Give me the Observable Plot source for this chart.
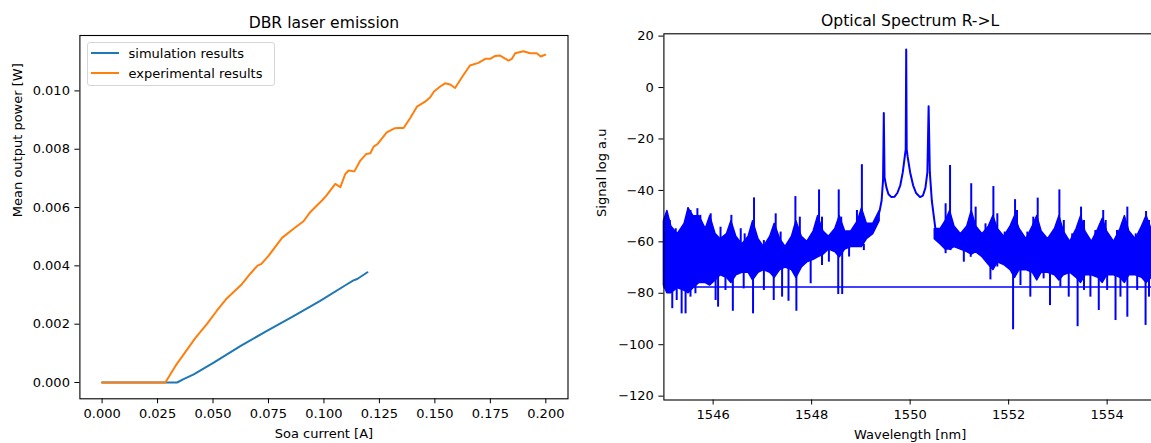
<!DOCTYPE html>
<html><head><meta charset="utf-8">
<script src="https://cdn.jsdelivr.net/npm/d3@7"></script>
<script src="https://cdn.jsdelivr.net/npm/@observablehq/plot@0.6"></script>
<style>
html,body{margin:0;padding:0;background:#fff;overflow:hidden;width:1151px;height:443px;}
#wrap{position:relative;width:1151px;height:443px;font-family:"DejaVu Sans",sans-serif;overflow:hidden;}
.panel{position:absolute;top:0;}
.legend{position:absolute;left:86.5px;top:42px;width:188px;height:44px;border:1px solid #d6d6d6;border-radius:3px;background:rgba(255,255,255,0.85);box-sizing:border-box;}
.legend .row{position:absolute;left:3px;height:16px;display:flex;align-items:center;font-size:13px;color:#000;white-space:nowrap;}
.legend .sw{display:inline-block;width:28px;height:2px;margin-right:10px;}
</style></head><body><div id="wrap"></div>
<script>
// ---------- Left panel data ----------
const leftTitle = "DBR laser emission";
const leftXLabel = "Soa current [A]";
const leftYLabel = "Mean output power [W]";
const legendLabels = ["simulation results", "experimental results"];
const leftXTicks = [0, 0.025, 0.05, 0.075, 0.1, 0.125, 0.15, 0.175, 0.2];
const leftYTicks = [0, 0.002, 0.004, 0.006, 0.008, 0.010];

const simCurrent = [0, 0.01, 0.02, 0.03, 0.0338, 0.0365, 0.0413, 0.0503, 0.0623, 0.0743, 0.0863, 0.0983, 0.1104, 0.1133, 0.1150, 0.1196];
const simPower   = [0, 0, 0, 0, 0, 0.00011, 0.00028, 0.00068, 0.00125, 0.00177, 0.00228, 0.00280, 0.00337, 0.00350, 0.00355, 0.00378];

const expCurrent = [0, 0.005, 0.01, 0.015, 0.02, 0.025, 0.0285, 0.033, 0.0375, 0.042, 0.0473, 0.0518, 0.0563, 0.0631, 0.0668, 0.0701, 0.0718, 0.0751, 0.0811, 0.0863, 0.0908, 0.0938, 0.0991, 0.1010, 0.1051, 0.1074, 0.1096, 0.1111, 0.1137, 0.1164, 0.1191, 0.1209, 0.1224, 0.1242, 0.1283, 0.1320, 0.1336, 0.1359, 0.1389, 0.1419, 0.1456, 0.1479, 0.1496, 0.1524, 0.1546, 0.1569, 0.1591, 0.1622, 0.1658, 0.1696, 0.1727, 0.1749, 0.1772, 0.1794, 0.1832, 0.1847, 0.1862, 0.1899, 0.1929, 0.1959, 0.1977, 0.1997];
const expPower   = [0, 0, 0, 0, 0, 0, 0, 0.00056, 0.00104, 0.00152, 0.00201, 0.00247, 0.00289, 0.00338, 0.00373, 0.00401, 0.00407, 0.00435, 0.00496, 0.00527, 0.00553, 0.00584, 0.00624, 0.00640, 0.00681, 0.00670, 0.00715, 0.00727, 0.00724, 0.00761, 0.00784, 0.00786, 0.00809, 0.00818, 0.00858, 0.00872, 0.00873, 0.00873, 0.00907, 0.00946, 0.00963, 0.00978, 0.00998, 0.01015, 0.01026, 0.01022, 0.01010, 0.01047, 0.01087, 0.01096, 0.01110, 0.01110, 0.01120, 0.01121, 0.01104, 0.01110, 0.01129, 0.01136, 0.01129, 0.01129, 0.01118, 0.01124];

// ---------- Right panel data ----------
const rightTitle = "Optical Spectrum R->L";
const rightXLabel = "Wavelength [nm]";
const rightYLabel = "Signal log a.u";
const rightXTicks = [1546, 1548, 1550, 1552, 1554];
const rightYTicks = [-120, -100, -80, -60, -40, -20, 0, 20];

// dense noise floor (upper / lower edge of the solid-looking band), rising in clusters at each cavity mode
const bandLeftNm = [1545.00, 1545.07, 1545.15, 1545.28, 1545.42, 1545.50, 1545.60, 1545.72, 1545.85, 1545.94, 1546.05, 1546.15, 1546.28, 1546.37, 1546.47, 1546.59, 1546.72, 1546.81, 1546.92, 1547.03, 1547.16, 1547.25, 1547.36, 1547.47, 1547.60, 1547.69, 1547.80, 1547.91, 1548.04, 1548.13, 1548.24, 1548.35, 1548.48, 1548.57, 1548.68, 1548.80, 1548.94, 1549.02, 1549.12, 1549.25, 1549.38];
const bandLeftHi = [-52, -48, -54, -57, -53, -47, -50, -50, -55, -50, -57, -59, -57, -52, -58, -61, -58, -52, -59, -62, -58, -53, -59, -62, -58, -52, -58, -60, -56, -50, -56, -58, -55, -50, -56, -56, -52, -47, -53, -53, -48];
const bandLeftLo = [-77, -80, -80, -78, -79, -80, -78, -76, -76, -77, -75, -73, -74, -76, -73, -72, -72, -75, -72, -71, -72, -74, -71, -70, -71, -74, -70, -68, -67, -66, -65, -63, -64, -66, -63, -62, -62, -62, -59, -57, -52];
const bandRightNm = [1550.50, 1550.62, 1550.72, 1550.81, 1550.90, 1551.03, 1551.16, 1551.25, 1551.34, 1551.47, 1551.60, 1551.69, 1551.78, 1551.91, 1552.04, 1552.13, 1552.22, 1552.36, 1552.49, 1552.58, 1552.67, 1552.80, 1552.94, 1553.03, 1553.12, 1553.25, 1553.38, 1553.47, 1553.56, 1553.69, 1553.82, 1553.91, 1554.00, 1554.14, 1554.27, 1554.36, 1554.45, 1554.58, 1554.71, 1554.80, 1554.90, 1555.00];
const bandRightHi = [-55, -55, -52, -48, -54, -57, -54, -48, -54, -57, -54, -50, -55, -58, -54, -50, -55, -59, -54, -50, -56, -59, -55, -50, -56, -60, -55, -50, -56, -60, -55, -51, -56, -60, -55, -50, -56, -59, -54, -50, -55, -57];
const bandRightLo = [-59, -61, -63, -63, -62, -63, -64, -65, -64, -66, -69, -71, -68, -69, -71, -74, -71, -71, -72, -75, -72, -72, -73, -75, -73, -72, -74, -76, -73, -73, -74, -76, -73, -73, -74, -76, -73, -73, -74, -76, -74, -73];

// upward spikes (side modes) and downward dips out of the noise floor
const spikeBase = -61;
const upNm = [1545.05, 1545.12, 1545.24, 1545.49, 1545.54, 1545.68, 1545.74, 1545.95, 1546.15, 1546.37, 1546.56, 1546.64, 1546.83, 1547.03, 1547.27, 1547.37, 1547.67, 1547.76, 1548.15, 1548.21, 1548.55, 1548.60, 1548.92, 1549.02, 1550.72, 1550.81, 1550.95, 1551.24, 1551.33, 1551.53, 1551.69, 1551.77, 1551.92, 1552.13, 1552.17, 1552.38, 1552.50, 1552.59, 1552.85, 1553.03, 1553.12, 1553.29, 1553.47, 1553.53, 1553.76, 1553.92, 1553.97, 1554.20, 1554.41, 1554.58, 1554.79, 1554.85];
const upDb = [-49.7, -51.7, -54.9, -46.8, -47.8, -47.1, -49.7, -49.1, -54.3, -49.7, -54.9, -56.9, -42.9, -59.5, -49.1, -56.2, -42.4, -50.4, -39.8, -50.4, -39.8, -50.4, -47.8, -30.0, -45.2, -30.3, -55.6, -37.4, -46.5, -53.0, -38.5, -49.1, -56.2, -43.6, -47.8, -56.2, -50.4, -43.0, -58.2, -39.8, -51.7, -56.9, -46.5, -51.7, -55.6, -47.8, -51.7, -55.6, -46.5, -56.9, -48.2, -51.7];
const downNm = [1545.07, 1545.17, 1545.26, 1545.36, 1545.44, 1545.54, 1545.64, 1546.05, 1546.10, 1546.25, 1546.40, 1546.62, 1546.81, 1547.03, 1547.23, 1547.40, 1547.53, 1547.69, 1547.98, 1548.21, 1548.35, 1548.54, 1548.62, 1548.76, 1549.06, 1550.72, 1550.82, 1551.09, 1551.23, 1551.63, 1551.77, 1552.09, 1552.24, 1552.44, 1552.71, 1552.84, 1553.05, 1553.22, 1553.40, 1553.53, 1553.66, 1553.83, 1554.00, 1554.17, 1554.27, 1554.41, 1554.61, 1554.78, 1554.85, 1554.92];
const downDb = [-73.7, -86.0, -82.8, -88.0, -88.0, -81.5, -80.2, -82.8, -85.4, -78.9, -87.0, -78.3, -88.0, -78.9, -82.8, -81.5, -83.1, -87.0, -76.3, -69.2, -67.9, -80.5, -80.5, -65.9, -63.4, -64.6, -63.4, -67.9, -66.0, -74.8, -69.8, -94.2, -77.0, -81.5, -74.4, -84.8, -77.6, -81.5, -93.0, -78.9, -81.5, -86.7, -78.9, -90.6, -81.5, -89.3, -78.9, -92.5, -81.5, -98.0];

// main lasing line with its two satellites and the Lorentzian pedestal
const centerNm = [1549.20, 1549.30, 1549.38, 1549.42, 1549.45, 1549.465, 1549.48, 1549.52, 1549.56, 1549.62, 1549.68, 1549.74, 1549.80, 1549.85, 1549.89, 1549.91, 1549.92, 1549.93, 1549.95, 1550.00, 1550.06, 1550.12, 1550.20, 1550.26, 1550.31, 1550.35, 1550.375, 1550.40, 1550.44, 1550.48, 1550.52, 1550.56];
const centerDb = [-55, -53, -48, -44, -36, -9.9, -35, -39, -41.5, -42.6, -42.5, -41, -38, -33, -27, -24, 14.8, -24, -27, -33, -38, -41, -42.6, -42, -39, -33, -7.3, -33, -44, -50, -56, -57];

const floorLevel = [-77.6];

// ---------- build ----------
const font = "DejaVu Sans";
const wrap = document.getElementById("wrap");
const fmt3 = d3.format(".3f");
const fmtInt = d3.format("d");

const simData = simCurrent.map((x, i) => ({x, y: simPower[i]}));
const expData = expCurrent.map((x, i) => ({x, y: expPower[i]}));

const left = Plot.plot({
  width: 580, height: 443,
  marginLeft: 79.4, marginRight: 12.5, marginTop: 35, marginBottom: 44.7,
  style: {fontFamily: font, fontSize: "13px", color: "black", background: "transparent", overflow: "visible"},
  x: {domain: [-0.01, 0.21]},
  y: {domain: [-0.000559, 0.0119]},
  marks: [
    Plot.axisX({ticks: leftXTicks, tickFormat: fmt3, tickSize: 5, tickPadding: 5, label: null, fontSize: 13}),
    Plot.axisY({ticks: leftYTicks, tickFormat: fmt3, tickSize: 5, tickPadding: 5, label: null, fontSize: 13}),
    Plot.line(simData, {x: "x", y: "y", stroke: "#1f77b4", strokeWidth: 2}),
    Plot.line(expData, {x: "x", y: "y", stroke: "#ff7f0e", strokeWidth: 2}),
    Plot.frame({stroke: "black", strokeWidth: 1.1}),
    Plot.text([leftTitle], {frameAnchor: "top", dy: -8, lineAnchor: "bottom", fontSize: 15.6}),
    Plot.text([leftXLabel], {frameAnchor: "bottom", dy: 35, lineAnchor: "middle", fontSize: 13}),
    Plot.text([leftYLabel], {frameAnchor: "left", dx: -62.4, rotate: -90, lineAnchor: "middle", fontSize: 13})
  ]
});
left.classList.add("panel");
left.style.left = "0px";
wrap.appendChild(left);

const bandLeft = bandLeftNm.map((nm, i) => ({nm, hi: bandLeftHi[i], lo: bandLeftLo[i]}));
const bandRight = bandRightNm.map((nm, i) => ({nm, hi: bandRightHi[i], lo: bandRightLo[i]}));
const ups = upNm.map((nm, i) => ({nm, db: upDb[i]}));
const downs = downNm.map((nm, i) => ({nm, db: downDb[i]}));
const center = centerNm.map((nm, i) => ({nm, db: centerDb[i]}));

const right = Plot.plot({
  width: 580, height: 443,
  marginLeft: 83.4, marginRight: 4.1, marginTop: 33.3, marginBottom: 43.5,
  style: {fontFamily: font, fontSize: "13px", color: "black", background: "transparent", overflow: "visible"},
  x: {domain: [1545, 1555]},
  y: {domain: [-121.5, 20.9]},
  marks: [
    Plot.axisX({ticks: rightXTicks, tickFormat: fmtInt, tickSize: 5, tickPadding: 5, label: null, fontSize: 13}),
    Plot.axisY({ticks: rightYTicks, tickFormat: fmtInt, tickSize: 5, tickPadding: 5, label: null, fontSize: 13}),
    Plot.areaY(bandLeft, {x: "nm", y1: "lo", y2: "hi", fill: "blue", stroke: "blue", strokeWidth: 1.5}),
    Plot.areaY(bandRight, {x: "nm", y1: "lo", y2: "hi", fill: "blue", stroke: "blue", strokeWidth: 1.5}),
    Plot.ruleX(ups, {x: "nm", y1: spikeBase, y2: "db", stroke: "blue", strokeWidth: 2}),
    Plot.ruleX(downs, {x: "nm", y1: spikeBase, y2: "db", stroke: "blue", strokeWidth: 2}),
    Plot.line(center, {x: "nm", y: "db", stroke: "blue", strokeWidth: 2}),
    Plot.ruleY(floorLevel, {stroke: "blue", strokeWidth: 1.5}),
    Plot.frame({stroke: "black", strokeWidth: 1.1}),
    Plot.text([rightTitle], {frameAnchor: "top", dy: -8, lineAnchor: "bottom", fontSize: 15.6}),
    Plot.text([rightXLabel], {frameAnchor: "bottom", dy: 35, lineAnchor: "middle", fontSize: 13}),
    Plot.text([rightYLabel], {frameAnchor: "left", dx: -62.4, rotate: -90, lineAnchor: "middle", fontSize: 13})
  ]
});
right.classList.add("panel");
right.style.left = "580px";
wrap.appendChild(right);

// legend (upper-left of left panel)
const legend = document.createElement("div");
legend.className = "legend";
const legendColors = ["#1f77b4", "#ff7f0e"];
legendLabels.forEach((lab, i) => {
  const row = document.createElement("div");
  row.className = "row";
  row.style.top = (2 + i * 20.4) + "px";
  const sw = document.createElement("span");
  sw.className = "sw";
  sw.style.background = legendColors[i];
  row.appendChild(sw);
  row.appendChild(document.createTextNode(lab));
  legend.appendChild(row);
});
wrap.appendChild(legend);
</script>
</body></html>
